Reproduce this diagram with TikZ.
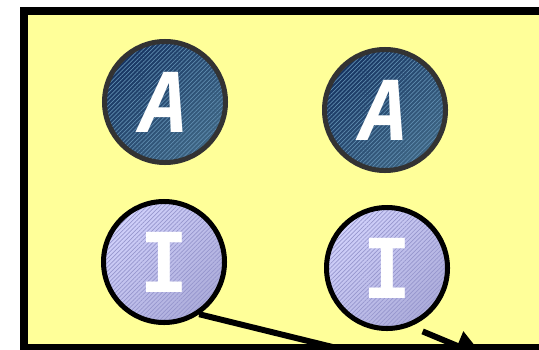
\documentclass[tikz,border=0pt]{standalone}
\usepackage{fontspec}
\newfontfamily\handfont{DejaVu Sans Mono}
\usetikzlibrary{arrows.meta,patterns.meta}

\definecolor{noteyellow}{RGB}{255,255,153}
\definecolor{adark}{RGB}{22,52,98}
\definecolor{alight}{RGB}{62,102,132}
\definecolor{astripe}{RGB}{95,140,175}
\definecolor{idark}{RGB}{210,210,252}
\definecolor{ilight}{RGB}{172,172,218}
\definecolor{istripe}{RGB}{150,150,205}

\tikzset{
    ball/.style={circle, line width=2.85pt, minimum size=2.42cm, inner sep=0pt, text=white},
    active/.style={ball, top color=adark, bottom color=alight, shading angle=45,
        postaction={pattern={Lines[angle=45, distance=1.7pt, line width=0.4pt]}, pattern color=astripe},
        postaction={draw=black!80},
        font=\handfont\bfseries\itshape\fontsize{47}{47}\selectfont},
    inactive/.style={ball, top color=idark, bottom color=ilight, shading angle=45,
        postaction={pattern={Lines[angle=45, distance=1.7pt, line width=0.4pt]}, pattern color=istripe},
        postaction={draw=black},
        font=\handfont\bfseries\fontsize{47}{47}\selectfont},
    link/.style={line width=3.4pt}
}

\begin{document}
\begin{tikzpicture}
            \useasboundingbox (0,0) rectangle (10.78,6.98);
            \clip (0,0) rectangle (10.78,6.98);
            \fill[noteyellow] (0.48,0.02) rectangle (12,6.76);

            \foreach \n/\x/\y in {a1/3.30/4.94, a2/7.70/4.78}{
                \node[active] (\n) at (\x,\y) {A};
            }
            \foreach \n/\x/\y in {i1/3.28/1.74, i2/7.74/1.62}{
                \node[inactive] (\n) at (\x,\y) {I};
            }

            \coordinate (c1) at (8.4,-0.39);
            \coordinate (c2) at (9.68,-0.16);
            \draw[link] (i1.-56) -- (c1);
            \draw[link, -{Triangle[length=0.58cm, width=0.6cm]}, shorten <=0.26cm] (i2.-68) -- (c2);

            \draw[line width=0.16cm] (0.48,0.02) rectangle (12,6.76);
        \end{tikzpicture}
\end{document}
